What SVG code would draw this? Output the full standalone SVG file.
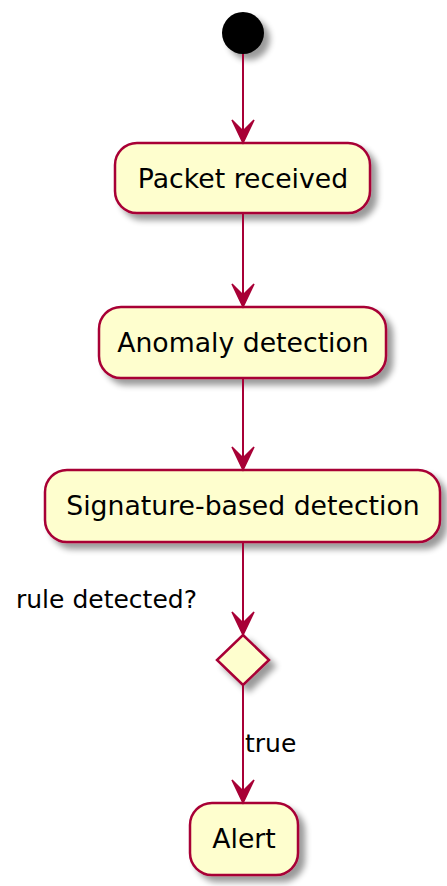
<svg xmlns="http://www.w3.org/2000/svg" width="447" height="886" viewBox="0 0 447 886">
<style>
.node{fill:#FEFECE;stroke:#A80036;stroke-width:2.5;filter:url(#sh)}
.lbl{font-family:"DejaVu Sans",sans-serif;font-size:26.7px;fill:#000;text-anchor:middle}
.sm{font-family:"DejaVu Sans",sans-serif;font-size:25px;fill:#000}
.edge{stroke:#A80036;stroke-width:2;fill:none}
.head{fill:#A80036;stroke:#A80036;stroke-width:1.5}
</style>
<defs>
<filter id="sh" x="-20%" y="-20%" width="150%" height="160%">
<feGaussianBlur in="SourceAlpha" stdDeviation="3"/>
<feOffset dx="6" dy="6" result="b"/>
<feComponentTransfer><feFuncA type="linear" slope="0.4"/></feComponentTransfer>
<feMerge><feMergeNode/><feMergeNode in="SourceGraphic"/></feMerge>
</filter>
<path id="ah" d="M0,0 L-11,-23 L0,-12 L11,-23 Z"/>
</defs>
<g id="start"><circle cx="243" cy="33" r="21" fill="#000" filter="url(#sh)"/></g>
<g id="n1"><rect class="node" x="115" y="143" width="255" height="70" rx="22"/><text class="lbl" x="243" y="188">Packet received</text></g>
<g id="n2"><rect class="node" x="99" y="307" width="287" height="71" rx="22"/><text class="lbl" x="243" y="352">Anomaly detection</text></g>
<g id="n3"><rect class="node" x="45" y="470" width="395" height="72" rx="22"/><text class="lbl" x="243" y="515">Signature-based detection</text></g>
<g id="d1"><polygon class="node" points="243,635 269,660 243,685 217,660"/><text class="sm" x="16" y="608">rule detected?</text></g>
<g id="n4"><rect class="node" x="190" y="803" width="108" height="72" rx="22"/><text class="lbl" x="244" y="848">Alert</text></g>
<g id="edges">
<line class="edge" x1="243" y1="54" x2="243" y2="140"/><use href="#ah" class="head" x="243" y="143"/>
<line class="edge" x1="243" y1="213" x2="243" y2="304"/><use href="#ah" class="head" x="243" y="307"/>
<line class="edge" x1="243" y1="378" x2="243" y2="467"/><use href="#ah" class="head" x="243" y="470"/>
<line class="edge" x1="243" y1="542" x2="243" y2="632"/><use href="#ah" class="head" x="243" y="635"/>
<line class="edge" x1="243" y1="685" x2="243" y2="800"/><use href="#ah" class="head" x="243" y="803"/>
<text class="sm" x="245" y="752">true</text>
</g>
</svg>
